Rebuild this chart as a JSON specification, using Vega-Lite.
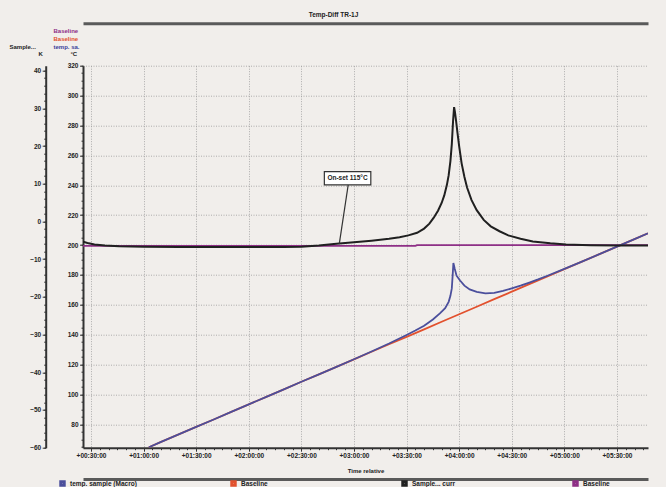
{
  "$schema": "https://vega.github.io/schema/vega-lite/v6.json",
  "width": 565,
  "height": 382,
  "autosize": {"type": "none"},
  "padding": {"left": 83, "top": 65.7, "right": 18, "bottom": 39.3},
  "background": "#f1eeeb",
  "title": {"text": "Temp-Diff TR-1J", "fontSize": 6.5, "font": "Liberation Sans", "fontWeight": "bold", "color": "#222", "anchor": "middle", "frame": "group", "dx": -32, "offset": 5},
  "config": {
    "view": {"stroke": null},
    "axis": {"labelFont": "Liberation Sans", "labelFontSize": 6.5, "labelFontWeight": "bold", "labelColor": "#222", "titleFont": "Liberation Sans", "titleFontSize": 6, "titleFontWeight": "bold", "titleColor": "#222", "domainColor": "#333", "domainWidth": 2, "tickColor": "#333", "tickWidth": 1, "gridColor": "#9a9a9a", "gridDash": [1, 1.5], "gridWidth": 0.8, "labelFlush": false}
  },
  "datasets": {
    "dt": [
      {"t": 25.44, "S": -5.4}, {"t": 28, "S": -5.7}, {"t": 32, "S": -6.1}, {"t": 38, "S": -6.4}, {"t": 46, "S": -6.6}, {"t": 60, "S": -6.7}, {"t": 80, "S": -6.8}, {"t": 100, "S": -6.8}, {"t": 120, "S": -6.8}, {"t": 140, "S": -6.8}, {"t": 150, "S": -6.7}, {"t": 160, "S": -6.4}, {"t": 170, "S": -5.9}, {"t": 180, "S": -5.5}, {"t": 190, "S": -5.1}, {"t": 200, "S": -4.6}, {"t": 206, "S": -4.2}, {"t": 211, "S": -3.7}, {"t": 216, "S": -3.0}, {"t": 220, "S": -1.9}, {"t": 223, "S": -0.6}, {"t": 225.5, "S": 1.0}, {"t": 228, "S": 2.9}, {"t": 230, "S": 4.9}, {"t": 231.5, "S": 6.9}, {"t": 233, "S": 9.7}, {"t": 234, "S": 12.2}, {"t": 235, "S": 16.0}, {"t": 235.8, "S": 20.5}, {"t": 236.5, "S": 26.5}, {"t": 237.1, "S": 30.3}, {"t": 237.6, "S": 29.0}, {"t": 238.2, "S": 26.8}, {"t": 239, "S": 23.6}, {"t": 240, "S": 19.9}, {"t": 241.4, "S": 15.4}, {"t": 243, "S": 11.8}, {"t": 244.5, "S": 9.0}, {"t": 247, "S": 5.7}, {"t": 250, "S": 3.0}, {"t": 254, "S": 0.4}, {"t": 258, "S": -1.3}, {"t": 263, "S": -2.6}, {"t": 268, "S": -3.7}, {"t": 275, "S": -4.6}, {"t": 282, "S": -5.3}, {"t": 292, "S": -5.8}, {"t": 301, "S": -6.1}, {"t": 315, "S": -6.3}, {"t": 330, "S": -6.4}, {"t": 347.7, "S": -6.4}
    ],
    "temp": [
      {"series": "Baseline", "t": 63, "T": 64.7}, {"series": "Baseline", "t": 70, "T": 68.3}, {"series": "Baseline", "t": 80, "T": 73.3}, {"series": "Baseline", "t": 90, "T": 78.3}, {"series": "Baseline", "t": 100, "T": 83.3}, {"series": "Baseline", "t": 110, "T": 88.4}, {"series": "Baseline", "t": 120, "T": 93.4}, {"series": "Baseline", "t": 130, "T": 98.4}, {"series": "Baseline", "t": 140, "T": 103.4}, {"series": "Baseline", "t": 150, "T": 108.5}, {"series": "Baseline", "t": 160, "T": 113.5}, {"series": "Baseline", "t": 170, "T": 118.5}, {"series": "Baseline", "t": 180, "T": 123.5}, {"series": "Baseline", "t": 190, "T": 128.6}, {"series": "Baseline", "t": 200, "T": 133.6}, {"series": "Baseline", "t": 210, "T": 138.6}, {"series": "Baseline", "t": 220, "T": 143.6}, {"series": "Baseline", "t": 230, "T": 148.7}, {"series": "Baseline", "t": 240, "T": 153.7}, {"series": "Baseline", "t": 250, "T": 158.7}, {"series": "Baseline", "t": 260, "T": 163.8}, {"series": "Baseline", "t": 270, "T": 168.8}, {"series": "Baseline", "t": 280, "T": 173.8}, {"series": "Baseline", "t": 290, "T": 178.8}, {"series": "Baseline", "t": 300, "T": 183.9}, {"series": "Baseline", "t": 310, "T": 188.9}, {"series": "Baseline", "t": 320, "T": 193.9}, {"series": "Baseline", "t": 330, "T": 198.9}, {"series": "Baseline", "t": 340, "T": 204.0}, {"series": "Baseline", "t": 347.7, "T": 207.8},
      {"series": "Baseline ", "t": 25.44, "T": 199.4}, {"series": "Baseline ", "t": 100, "T": 199.4}, {"series": "Baseline ", "t": 215, "T": 199.4}, {"series": "Baseline ", "t": 216, "T": 199.9}, {"series": "Baseline ", "t": 300, "T": 199.9}, {"series": "Baseline ", "t": 347.7, "T": 199.9},
      {"series": "temp. sample (Macro)", "t": 63, "T": 64.7}, {"series": "temp. sample (Macro)", "t": 70, "T": 68.3}, {"series": "temp. sample (Macro)", "t": 80, "T": 73.3}, {"series": "temp. sample (Macro)", "t": 90, "T": 78.3}, {"series": "temp. sample (Macro)", "t": 100, "T": 83.3}, {"series": "temp. sample (Macro)", "t": 110, "T": 88.4}, {"series": "temp. sample (Macro)", "t": 120, "T": 93.4}, {"series": "temp. sample (Macro)", "t": 130, "T": 98.4}, {"series": "temp. sample (Macro)", "t": 140, "T": 103.4}, {"series": "temp. sample (Macro)", "t": 150, "T": 108.5}, {"series": "temp. sample (Macro)", "t": 160, "T": 113.5}, {"series": "temp. sample (Macro)", "t": 170, "T": 118.5}, {"series": "temp. sample (Macro)", "t": 180, "T": 123.6}, {"series": "temp. sample (Macro)", "t": 190, "T": 128.8}, {"series": "temp. sample (Macro)", "t": 200, "T": 134.1}, {"series": "temp. sample (Macro)", "t": 210, "T": 139.8}, {"series": "temp. sample (Macro)", "t": 215, "T": 142.8}, {"series": "temp. sample (Macro)", "t": 220, "T": 146.0}, {"series": "temp. sample (Macro)", "t": 225, "T": 150.2}, {"series": "temp. sample (Macro)", "t": 229, "T": 154.3}, {"series": "temp. sample (Macro)", "t": 232, "T": 157.8}, {"series": "temp. sample (Macro)", "t": 234, "T": 162.0}, {"series": "temp. sample (Macro)", "t": 235, "T": 166.0}, {"series": "temp. sample (Macro)", "t": 235.8, "T": 171.0}, {"series": "temp. sample (Macro)", "t": 236.3, "T": 180.0}, {"series": "temp. sample (Macro)", "t": 236.7, "T": 188.0}, {"series": "temp. sample (Macro)", "t": 237.5, "T": 184.0}, {"series": "temp. sample (Macro)", "t": 238.5, "T": 179.5}, {"series": "temp. sample (Macro)", "t": 240.5, "T": 176.3}, {"series": "temp. sample (Macro)", "t": 243, "T": 172.8}, {"series": "temp. sample (Macro)", "t": 246, "T": 170.3}, {"series": "temp. sample (Macro)", "t": 250, "T": 168.6}, {"series": "temp. sample (Macro)", "t": 255, "T": 167.7}, {"series": "temp. sample (Macro)", "t": 260, "T": 168.0}, {"series": "temp. sample (Macro)", "t": 265, "T": 169.3}, {"series": "temp. sample (Macro)", "t": 270, "T": 171.0}, {"series": "temp. sample (Macro)", "t": 275, "T": 172.8}, {"series": "temp. sample (Macro)", "t": 280, "T": 174.9}, {"series": "temp. sample (Macro)", "t": 285, "T": 177.0}, {"series": "temp. sample (Macro)", "t": 290, "T": 179.3}, {"series": "temp. sample (Macro)", "t": 300, "T": 184.1}, {"series": "temp. sample (Macro)", "t": 310, "T": 188.9}, {"series": "temp. sample (Macro)", "t": 320, "T": 193.9}, {"series": "temp. sample (Macro)", "t": 330, "T": 198.9}, {"series": "temp. sample (Macro)", "t": 340, "T": 204.0}, {"series": "temp. sample (Macro)", "t": 347.7, "T": 207.8}
    ]
  },
  "resolve": {"scale": {"y": "independent"}, "axis": {"x": "independent"}},
  "layer": [
    {
      "data": {"name": "temp"},
      "mark": {"type": "line", "strokeWidth": 1.8, "clip": true},
      "encoding": {
        "x": {"field": "t", "type": "quantitative", "scale": {"domain": [25.44, 347.7], "nice": false, "zero": false},
          "axis": {"orient": "bottom", "values": [30, 60, 90, 120, 150, 180, 210, 240, 270, 300, 330], "labelExpr": "'+' + (datum.value < 600 ? '0' : '') + floor(datum.value / 60) + ':' + (datum.value % 60 < 10 ? '0' : '') + (datum.value % 60) + ':00'", "grid": true, "title": "Time relative", "tickSize": 3.5, "labelPadding": 1.5, "titlePadding": 8}},
        "y": {"field": "T", "type": "quantitative", "scale": {"domain": [64.4, 320], "nice": false, "zero": false},
          "axis": {"orient": "left", "offset": 0, "values": [80, 100, 120, 140, 160, 180, 200, 220, 240, 260, 280, 300, 320], "grid": true, "tickSize": 3.5, "labelPadding": 1.5, "title": "°C", "titleAngle": 0, "titleX": -9.7, "titleY": -12.5, "titleAlign": "center", "titleBaseline": "middle"}},
        "color": {"field": "series", "type": "nominal",
          "scale": {"domain": ["temp. sample (Macro)", "Baseline", "Sample... curr", "Baseline "], "range": ["#4b4f9c", "#e2512e", "#202020", "#8e2f86"]},
          "legend": {"orient": "none", "legendX": -24, "legendY": 414, "direction": "horizontal", "columns": 4, "gridAlign": "all", "columnPadding": 88, "title": null, "symbolType": "square", "symbolSize": 12, "symbolStrokeWidth": 3, "labelFont": "Liberation Sans", "labelFontSize": 6.5, "labelFontWeight": "bold", "labelColor": "#222"}}
      }
    },
    {
      "data": {"name": "dt"},
      "mark": {"type": "line", "strokeWidth": 2, "clip": true},
      "encoding": {
        "x": {"field": "t", "type": "quantitative", "scale": {"domain": [25.44, 347.7], "nice": false, "zero": false}, "axis": null},
        "y": {"field": "S", "type": "quantitative", "scale": {"domain": [-60, 41.3], "nice": false, "zero": false},
          "axis": {"orient": "left", "offset": 37.3, "values": [-60, -50, -40, -30, -20, -10, 0, 10, 20, 30, 40], "grid": false, "tickSize": 3.5, "labelPadding": 1.5, "title": "Sample...", "titleAngle": 0, "titleX": -23.5, "titleY": -19, "titleAlign": "center", "titleBaseline": "middle"}},
        "color": {"datum": "Sample... curr", "type": "nominal"}
      }
    },
    {
      "data": {"name": "dt"},
      "mark": {"type": "line", "strokeOpacity": 0},
      "encoding": {
        "x": {"field": "t", "type": "quantitative", "scale": {"domain": [25.44, 347.7], "nice": false, "zero": false},
          "axis": {"orient": "bottom", "values": [30, 35, 40, 45, 50, 55, 60, 65, 70, 75, 80, 85, 90, 95, 100, 105, 110, 115, 120, 125, 130, 135, 140, 145, 150, 155, 160, 165, 170, 175, 180, 185, 190, 195, 200, 205, 210, 215, 220, 225, 230, 235, 240, 245, 250, 255, 260, 265, 270, 275, 280, 285, 290, 295, 300, 305, 310, 315, 320, 325, 330, 335, 340, 345], "labels": false, "domain": false, "grid": false, "tickSize": 2, "title": null}},
        "y": {"field": "S", "type": "quantitative", "scale": {"domain": [-60, 41.3], "nice": false, "zero": false}, "axis": null}
      }
    },
    {
      "data": {"name": "dt"},
      "mark": {"type": "line", "strokeOpacity": 0},
      "encoding": {
        "x": {"field": "t", "type": "quantitative", "scale": {"domain": [25.44, 347.7], "nice": false, "zero": false}, "axis": null},
        "y": {"field": "S", "type": "quantitative", "scale": {"domain": [-60, 41.3], "nice": false, "zero": false},
          "axis": {"orient": "left", "offset": 37.3, "values": [-60, -58, -56, -54, -52, -50, -48, -46, -44, -42, -40, -38, -36, -34, -32, -30, -28, -26, -24, -22, -20, -18, -16, -14, -12, -10, -8, -6, -4, -2, 0, 2, 4, 6, 8, 10, 12, 14, 16, 18, 20, 22, 24, 26, 28, 30, 32, 34, 36, 38, 40], "labels": false, "domain": false, "grid": false, "tickSize": 2, "title": "K", "titleAngle": 0, "titleX": -5.5, "titleY": -12.5, "titleAlign": "center", "titleBaseline": "middle"}}
      }
    },
    {
      "data": {"name": "temp"},
      "mark": {"type": "line", "strokeOpacity": 0},
      "encoding": {
        "x": {"field": "t", "type": "quantitative", "scale": {"domain": [25.44, 347.7], "nice": false, "zero": false}, "axis": null},
        "y": {"field": "T", "type": "quantitative", "scale": {"domain": [64.4, 320], "nice": false, "zero": false},
          "axis": {"orient": "left", "values": [65, 70, 75, 80, 85, 90, 95, 100, 105, 110, 115, 120, 125, 130, 135, 140, 145, 150, 155, 160, 165, 170, 175, 180, 185, 190, 195, 200, 205, 210, 215, 220, 225, 230, 235, 240, 245, 250, 255, 260, 265, 270, 275, 280, 285, 290, 295, 300, 305, 310, 315, 320], "labels": false, "domain": false, "grid": false, "tickSize": 2, "title": "temp. sa.", "titleColor": "#3a3f9a", "titleAngle": 0, "titleX": -30, "titleY": -19.5, "titleAlign": "left", "titleBaseline": "middle"}}
      }
    },
    {
      "data": {"name": "temp"},
      "mark": {"type": "line", "strokeOpacity": 0},
      "encoding": {
        "x": {"field": "t", "type": "quantitative", "scale": {"domain": [25.44, 347.7], "nice": false, "zero": false}, "axis": null},
        "y": {"field": "T", "type": "quantitative", "scale": {"domain": [64.4, 320], "nice": false, "zero": false},
          "axis": {"orient": "left", "labels": false, "ticks": false, "domain": false, "grid": false, "title": "Baseline", "titleColor": "#e2512e", "titleAngle": 0, "titleX": -30, "titleY": -27.4, "titleAlign": "left", "titleBaseline": "middle"}}
      }
    },
    {
      "data": {"name": "temp"},
      "mark": {"type": "line", "strokeOpacity": 0},
      "encoding": {
        "x": {"field": "t", "type": "quantitative", "scale": {"domain": [25.44, 347.7], "nice": false, "zero": false}, "axis": null},
        "y": {"field": "T", "type": "quantitative", "scale": {"domain": [64.4, 320], "nice": false, "zero": false},
          "axis": {"orient": "left", "labels": false, "ticks": false, "domain": false, "grid": false, "title": "Baseline", "titleColor": "#8e2f86", "titleAngle": 0, "titleX": -30, "titleY": -35.3, "titleAlign": "left", "titleBaseline": "middle"}}
      }
    },
    {
      "data": {"name": "dt"},
      "mark": {"type": "line", "strokeOpacity": 0},
      "encoding": {
        "x": {"field": "t", "type": "quantitative", "scale": {"domain": [25.44, 347.7], "nice": false, "zero": false},
          "axis": {"orient": "top", "offset": 42.4, "labels": false, "ticks": false, "grid": false, "title": null, "domainWidth": 3, "domainColor": "#5a5a5a"}},
        "y": {"field": "S", "type": "quantitative", "scale": {"domain": [-60, 41.3], "nice": false, "zero": false}, "axis": null}
      }
    },
    {
      "data": {"name": "dt"},
      "mark": {"type": "line", "strokeOpacity": 0},
      "encoding": {
        "x": {"field": "t", "type": "quantitative", "scale": {"domain": [25.44, 347.7], "nice": false, "zero": false},
          "axis": {"orient": "bottom", "offset": 31.3, "labels": false, "ticks": false, "grid": false, "title": null, "domainWidth": 3, "domainColor": "#5a5a5a"}},
        "y": {"field": "S", "type": "quantitative", "scale": {"domain": [-60, 41.3], "nice": false, "zero": false}, "axis": null}
      }
    },
    {
      "data": {"values": [{"label": "On-set 115°C", "t1": 163.1, "t2": 189.6, "s1": 9.7, "s2": 13.2, "tc": 176.3, "sc": 11.45, "tp1": 176.7, "tp2": 171.6, "sp2": -6.0}]},
      "layer": [
        {
          "mark": {"type": "rule", "stroke": "#333", "strokeWidth": 1.2},
          "encoding": {
            "x": {"field": "tp1", "type": "quantitative", "scale": {"domain": [25.44, 347.7], "nice": false, "zero": false}, "axis": null},
            "x2": {"field": "tp2"},
            "y": {"field": "s1", "type": "quantitative", "scale": {"domain": [-60, 41.3], "nice": false, "zero": false}, "axis": null},
            "y2": {"field": "sp2"}
          }
        },
        {
          "mark": {"type": "rect", "fill": "#ffffff", "stroke": "#333", "strokeWidth": 1.2},
          "encoding": {
            "x": {"field": "t1", "type": "quantitative", "scale": {"domain": [25.44, 347.7], "nice": false, "zero": false}, "axis": null},
            "x2": {"field": "t2"},
            "y": {"field": "s1", "type": "quantitative", "axis": null},
            "y2": {"field": "s2"}
          }
        },
        {
          "mark": {"type": "text", "font": "Liberation Sans", "fontSize": 6.5, "fontWeight": "bold", "color": "#222", "align": "center", "baseline": "middle"},
          "encoding": {
            "x": {"field": "tc", "type": "quantitative", "scale": {"domain": [25.44, 347.7], "nice": false, "zero": false}, "axis": null},
            "y": {"field": "sc", "type": "quantitative", "axis": null},
            "text": {"field": "label"}
          }
        }
      ]
    }
  ]
}
